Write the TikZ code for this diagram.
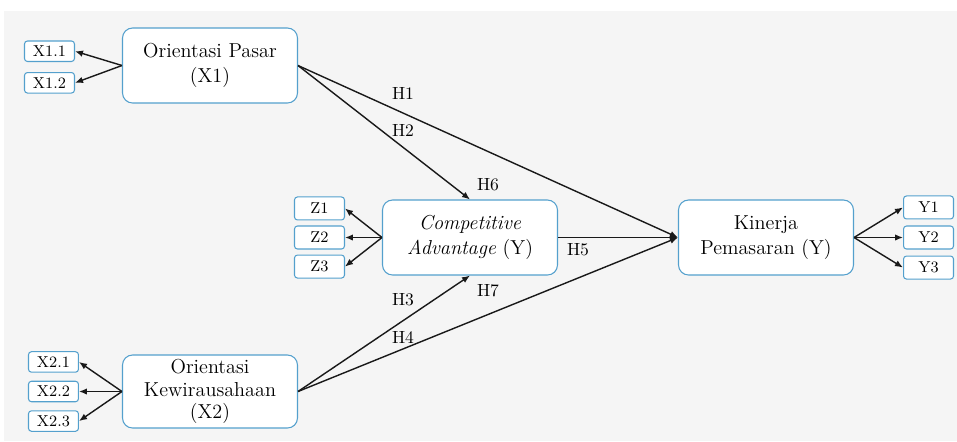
\documentclass[tikz,border=0pt]{standalone}
\usetikzlibrary{arrows.meta, positioning}
\definecolor{boxblue}{RGB}{84, 160, 205}
\definecolor{charcoal}{RGB}{25, 25, 25}
\definecolor{bggray}{RGB}{245, 245, 245}

\begin{document}
\begin{tikzpicture}[x=0.02cm, y=-0.02cm,
            box/.style={draw=boxblue, fill=white, semithick, rounded corners=0.2cm, minimum width=3.5cm, minimum height=1.5cm, align=center, font=\fontsize{11.5}{14.5}\selectfont},
            ind/.style={draw=boxblue, fill=white, semithick, rounded corners=0.06cm, minimum width=1cm, minimum height=0.41cm, inner sep=1pt, font=\small},
            tallind/.style={ind, minimum height=0.46cm},
            hyp/.style={font=\normalsize},
            arrow/.style={-{Latex[length=1.6mm, width=1.3mm]}, line width=0.8pt, charcoal}
        ]
            \useasboundingbox (0,0) rectangle (957,441);
            \fill[bggray] (4,11) rectangle (957,441);

            \node[box] (ca) at (470,237.5) {\textit{Competitive}\\\textit{Advantage} (Y)};
            \node[box, right=2.4cm of ca] (kp) {Kinerja\\Pemasaran (Y)};
            \node[box] (op) at (210,65.5) {Orientasi Pasar\\(X1)};
            \node[box, inner ysep=1pt, minimum height=1.46cm, font=\fontsize{11.5}{12.6}\selectfont] (ok) at (210,391.5) {Orientasi\\Kewirausahaan\\(X2)};

            \node[ind, above left=0.07cm and 0.94cm of op.west] (x11) {X1.1};
            \node[ind, below left=0.13cm and 0.94cm of op.west] (x12) {X1.2};

            \node[ind, left=0.86cm of ok] (x22) {X2.2};
            \node[ind, above=0.16cm of x22] (x21) {X2.1};
            \node[ind, below=0.16cm of x22] (x23) {X2.3};

            \node[tallind, left=0.74cm of ca] (z2) {Z2};
            \node[tallind, above=0.1cm of z2] (z1) {Z1};
            \node[tallind, below=0.1cm of z2] (z3) {Z3};

            \node[tallind, right=0.98cm of kp] (y2) {Y2};
            \node[tallind, above=0.12cm of y2] (y1) {Y1};
            \node[tallind, below=0.12cm of y2] (y3) {Y3};

            \draw[arrow] (op.west) -- (x11.east);
            \draw[arrow] (op.west) -- (x12.east);
            \draw[arrow] (ok.west) -- (x21.east);
            \draw[arrow] (ok.west) -- (x22.east);
            \draw[arrow] (ok.west) -- (x23.east);
            \draw[arrow] (ca.west) -- (z1.east);
            \draw[arrow] (ca.west) -- (z2.east);
            \draw[arrow] (ca.west) -- (z3.east);
            \draw[arrow] (kp.east) -- (y1.west);
            \draw[arrow] (kp.east) -- (y2.west);
            \draw[arrow] (kp.east) -- (y3.west);

            \draw[arrow] (op.east) -- (kp.west);
            \draw[arrow] (op.east) -- (ca.north);
            \draw[arrow] (ca.east) -- (kp.west);
            \draw[arrow] (ok.east) -- (ca.south);
            \draw[arrow] (ok.east) -- (kp.west);

            \node[hyp] (h1) at (403,93) {H1};
            \node[hyp] (h2) at (403,130) {H2};
            \node[hyp] (h6) at (488,185) {H6};
            \node[hyp] (h5) at (578,250) {H5};
            \node[hyp] (h7) at (488,291) {H7};
            \node[hyp] (h3) at (403,300) {H3};
            \node[hyp] (h4) at (403,337) {H4};
        \end{tikzpicture}
\end{document}
